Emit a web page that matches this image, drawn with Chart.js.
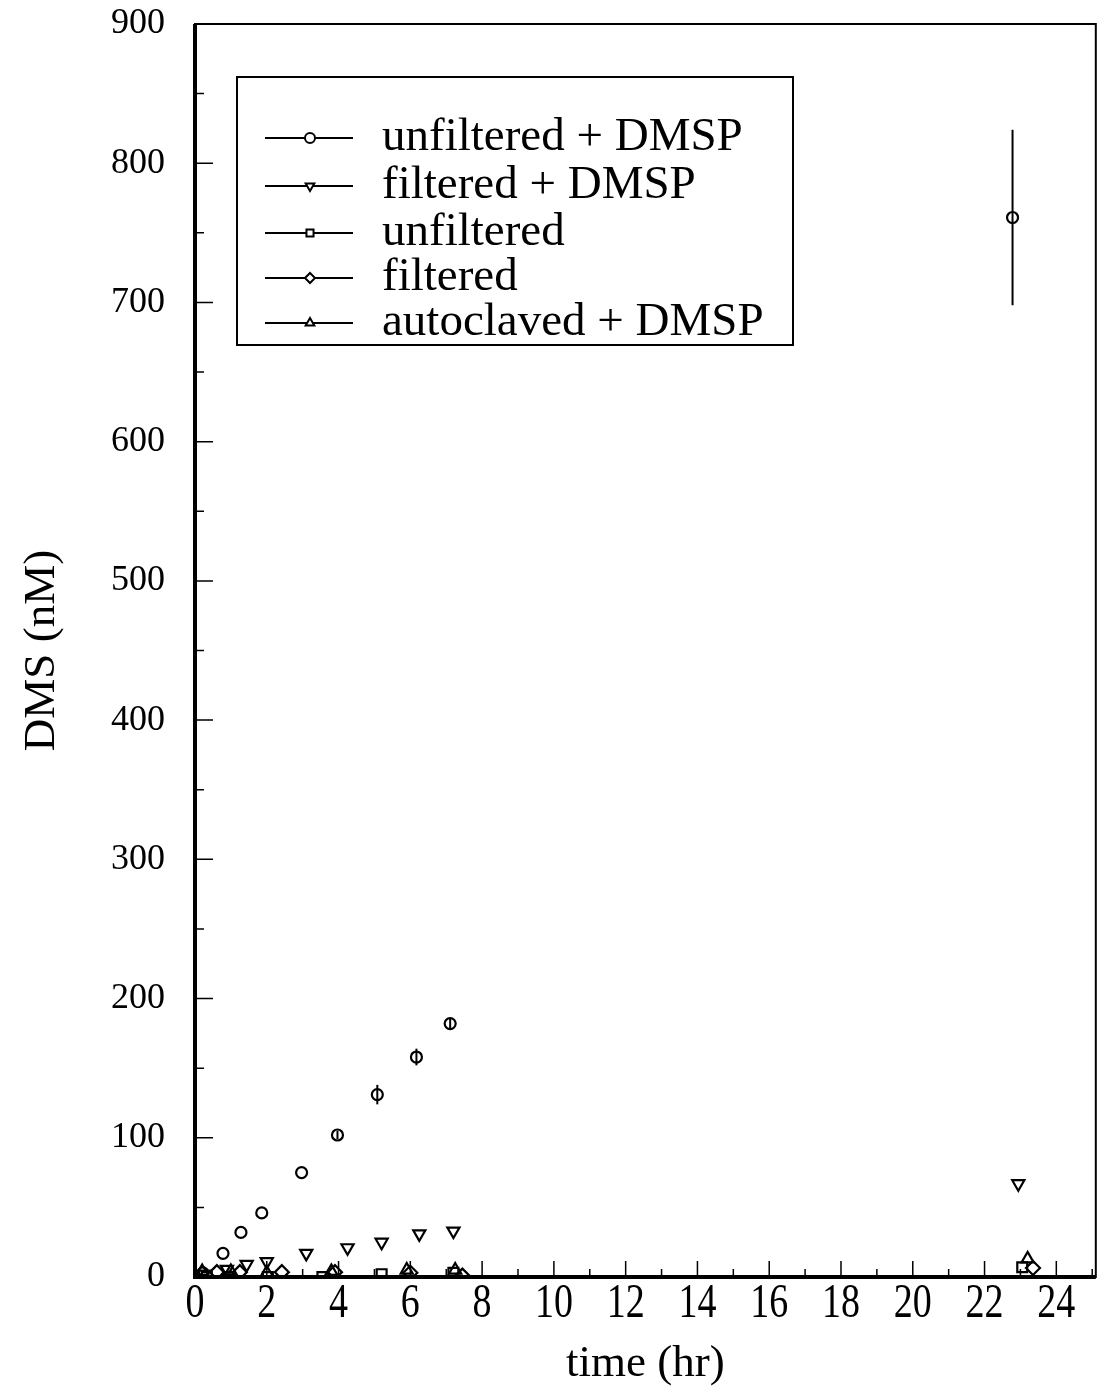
<!DOCTYPE html>
<html lang="en">
<head>
    <meta charset="UTF-8">
    <title>DMS production</title>
    <script src="https://cdn.jsdelivr.net/npm/chart.js"></script>
    <style>
        body { margin: 0; background: #fff; }
        #wrap { width: 1105px; height: 1399px; position: relative; }
    </style>
</head>
<body>
<div id="wrap"><canvas id="myChart"></canvas></div>
<script>
    // time (hr) and DMS (nM) for each treatment
    const unfDmspT = [0.22, 0.78, 1.28, 1.86, 2.97, 3.97, 5.08, 6.17, 7.11, 22.78];
    const unfDmspY = [3, 17, 32, 46, 75, 102, 131, 158, 182, 761];
    const unfDmspErr = [0, 0, 0, 0, 0, 3, 7, 6, 4, 63];

    const filDmspT = [0.25, 0.89, 1.44, 2.0, 3.1, 4.25, 5.2, 6.25, 7.2, 22.94];
    const filDmspY = [2, 5.5, 9, 11, 17, 21, 25, 31, 33, 67];

    const unfT = [0.33, 0.92, 2.03, 3.55, 5.2, 7.2, 23.05];
    const unfY = [0, 0, 0, 0, 2, 3, 7];

    const filT = [0.61, 1.25, 2.42, 3.9, 6.0, 7.45, 23.35];
    const filY = [3.5, 3.5, 3.5, 3.5, 3, 1, 6.5];

    const autoT = [0.2, 1.0, 2.0, 3.8, 5.9, 7.25, 23.2];
    const autoY = [4, 4, 3, 4, 5, 5, 13];

    const xTicks = [0, 2, 4, 6, 8, 10, 12, 14, 16, 18, 20, 22, 24];
    const yTicks = [0, 100, 200, 300, 400, 500, 600, 700, 800, 900];

    const serif = '"Liberation Serif", "Times New Roman", serif';

    function pts(t, y) {
        return t.map((v, i) => ({ x: v, y: y[i] }));
    }

    function series(label, t, y, style, rot, err) {
        return {
            label: label,
            data: pts(t, y),
            err: err || null,
            showLine: false,
            pointStyle: style,
            rotation: rot || 0,
            pointRadius: style === 'circle' ? 5.5 : 7,
            pointBorderWidth: 2.2,
            pointBorderColor: '#000',
            pointBackgroundColor: 'rgba(0,0,0,0)',
            borderColor: '#000'
        };
    }

    // frame, inward ticks, tall x labels, error bars and the boxed legend
    const decorations = {
        id: 'decorations',
        beforeDatasetsDraw(chart) {
            const ctx = chart.ctx;
            const xs = chart.scales.x, ys = chart.scales.y;
            ctx.save();
            ctx.strokeStyle = '#000';
            ctx.lineWidth = 2;
            chart.data.datasets.forEach(ds => {
                if (!ds.err) return;
                ds.data.forEach((p, i) => {
                    const e = ds.err[i];
                    if (!e) return;
                    const px = xs.getPixelForValue(p.x);
                    ctx.beginPath();
                    ctx.moveTo(px, ys.getPixelForValue(p.y - e));
                    ctx.lineTo(px, ys.getPixelForValue(p.y + e));
                    ctx.stroke();
                });
            });
            ctx.restore();
        },
        afterDraw(chart) {
            const ctx = chart.ctx;
            const a = chart.chartArea;
            const xs = chart.scales.x, ys = chart.scales.y;
            ctx.save();
            ctx.strokeStyle = '#000';

            // frame
            ctx.lineWidth = 2;
            ctx.strokeRect(a.left, a.top, a.right - a.left, a.bottom - a.top);
            ctx.lineWidth = 4;
            ctx.beginPath();
            ctx.moveTo(a.left, a.top);
            ctx.lineTo(a.left, a.bottom);
            ctx.lineTo(a.right, a.bottom);
            ctx.stroke();

            // inward ticks
            ctx.lineWidth = 1.5;
            ctx.beginPath();
            for (let v = 1; v <= 25; v++) {
                const px = xs.getPixelForValue(v);
                const len = v % 2 === 0 ? 16 : 8;
                ctx.moveTo(px, a.bottom);
                ctx.lineTo(px, a.bottom - len);
            }
            for (let v = 50; v < 900; v += 50) {
                const py = ys.getPixelForValue(v);
                const len = v % 100 === 0 ? 18 : 9;
                ctx.moveTo(a.left, py);
                ctx.lineTo(a.left + len, py);
            }
            ctx.stroke();

            // x tick labels, set in a tall narrow face
            ctx.fillStyle = '#000';
            ctx.font = '38px ' + serif;
            ctx.textAlign = 'center';
            ctx.textBaseline = 'top';
            xs.ticks.forEach(t => {
                ctx.save();
                ctx.translate(xs.getPixelForValue(t.value), a.bottom + 2);
                ctx.scale(1, 1.3);
                ctx.fillText(String(t.value), 0, 0);
                ctx.restore();
            });

            // legend
            const box = { l: 237, t: 77, r: 793, b: 345 };
            ctx.lineWidth = 2;
            ctx.strokeRect(box.l, box.t, box.r - box.l, box.b - box.t);
            const rows = [138, 186, 233, 278, 323];
            ctx.font = '47px ' + serif;
            ctx.textAlign = 'left';
            ctx.textBaseline = 'middle';
            chart.data.datasets.forEach((ds, i) => {
                const y = rows[i];
                ctx.lineWidth = 2;
                ctx.beginPath();
                ctx.moveTo(265, y);
                ctx.lineTo(353, y);
                ctx.stroke();
                ctx.fillStyle = '#fff';
                Chart.helpers.drawPoint(ctx, {
                    pointStyle: ds.pointStyle,
                    radius: 5,
                    rotation: ds.rotation,
                    borderWidth: 2
                }, 310, y);
                ctx.fillStyle = '#000';
                ctx.fillText(ds.label, 382, y);
            });
            ctx.restore();
        }
    };

    const ctx = document.getElementById('myChart').getContext('2d');
    new Chart(ctx, {
        type: 'scatter',
        data: {
            datasets: [
                series('unfiltered + DMSP', unfDmspT, unfDmspY, 'circle', 0, unfDmspErr),
                series('filtered + DMSP', filDmspT, filDmspY, 'triangle', 180),
                series('unfiltered', unfT, unfY, 'rect', 0),
                series('filtered', filT, filY, 'rectRot', 0),
                series('autoclaved + DMSP', autoT, autoY, 'triangle', 0)
            ]
        },
        options: {
            responsive: true,
            maintainAspectRatio: false,
            animation: false,
            layout: { padding: { top: 24, right: 7, left: 0, bottom: 0 } },
            plugins: {
                legend: { display: false },
                tooltip: { enabled: false }
            },
            scales: {
                x: {
                    type: 'linear',
                    min: 0,
                    max: 25.1,
                    afterBuildTicks: s => { s.ticks = xTicks.map(v => ({ value: v })); },
                    afterFit: s => {
                        s.height = 122;
                        s.paddingLeft = 0;
                        s.paddingRight = 0;
                    },
                    grid: { display: false, drawTicks: false },
                    border: { display: false },
                    ticks: { display: false },
                    title: {
                        display: true,
                        text: 'time (hr)',
                        color: '#000',
                        font: { family: serif, size: 45 },
                        padding: { top: 0, bottom: 8 }
                    }
                },
                y: {
                    min: 0,
                    max: 900,
                    afterBuildTicks: s => { s.ticks = yTicks.map(v => ({ value: v })); },
                    afterFit: s => {
                        s.width = 195;
                        s.paddingTop = 0;
                        s.paddingBottom = 0;
                    },
                    grid: { display: false, drawTicks: false },
                    border: { display: false },
                    ticks: {
                        padding: 30,
                        color: '#000',
                        font: { family: serif, size: 36 }
                    },
                    title: {
                        display: true,
                        text: 'DMS (nM)',
                        color: '#000',
                        font: { family: serif, size: 45 },
                        padding: { top: 15, bottom: 0 }
                    }
                }
            }
        },
        plugins: [decorations]
    });
</script>
</body>
</html>
